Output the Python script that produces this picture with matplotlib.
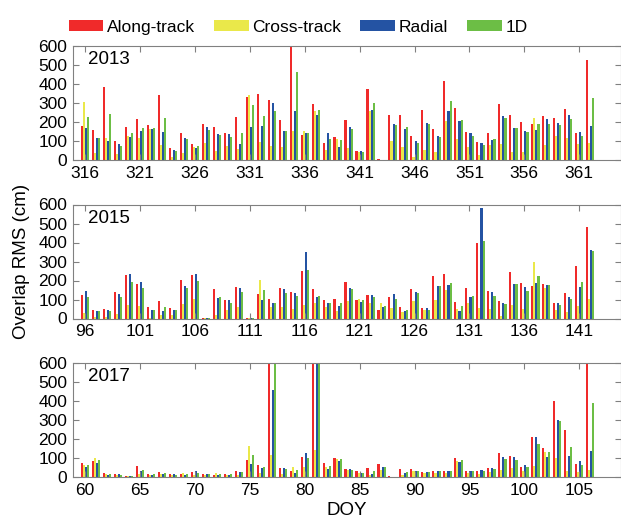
import numpy as np
import matplotlib
matplotlib.use('Agg')
import matplotlib.pyplot as plt
from matplotlib.patches import Patch

plt.rcParams['font.family'] = ['Liberation Sans', 'DejaVu Sans']

series_names = ['Along-track', 'Cross-track', 'Radial', '1D']
colors = ['#f02a2a', '#eae84a', '#2453a3', '#6cbe45']

# 2013, DOY 316-362 (values above 600 are clipped in the figure)
doy_2013 = list(range(316, 363))
along_2013 = [179, 158, 384, 98, 172, 214, 184, 342, 61, 142,
              86, 188, 174, 144, 226, 330, 347, 318, 209, 700,
              133, 295, 89, 121, 209, 46, 372, 3, 235, 237,
              126, 261, 161, 416, 272, 146, 95, 142, 295, 239,
              202, 191, 233, 219, 268, 142, 525]
cross_2013 = [305, 39, 118, 30, 126, 118, 165, 79, 18, 35,
              70, 88, 47, 74, 58, 340, 96, 74, 67, 153,
              151, 260, 53, 111, 63, 42, 260, 2, 100, 70,
              14, 53, 44, 207, 109, 67, 26, 77, 84, 44,
              42, 219, 81, 126, 116, 84, 89]
radial_2013 = [170, 116, 100, 84, 123, 151, 161, 149, 54, 116,
               65, 172, 135, 137, 84, 172, 177, 298, 154, 258,
               144, 235, 140, 70, 172, 46, 261, 2, 189, 165,
               98, 195, 126, 260, 207, 140, 91, 104, 230, 167,
               151, 158, 214, 193, 235, 146, 179]
oned_2013 = [228, 116, 240, 75, 144, 167, 170, 221, 49, 109,
             74, 158, 130, 121, 144, 291, 232, 256, 154, 463,
             144, 265, 111, 104, 161, 40, 300, 2, 182, 172,
             89, 191, 121, 309, 209, 125, 77, 111, 221, 170,
             147, 189, 189, 184, 218, 126, 325]

# 2015, DOY 96-142
doy_2015 = list(range(96, 143))
along_2015 = [123, 47, 51, 140, 228, 179, 58, 93, 56, 202,
              230, 3, 156, 95, 167, 3, 128, 102, 161, 140,
              251, 153, 100, 102, 191, 96, 126, 44, 111, 60,
              153, 56, 225, 232, 89, 158, 398, 144, 91, 247,
              188, 170, 184, 79, 133, 275, 481]
cross_2015 = [30, 9, 9, 23, 70, 65, 5, 18, 18, 75,
              104, 2, 18, 44, 61, 2, 202, 60, 63, 49,
              70, 82, 61, 42, 93, 102, 79, 82, 53, 35,
              91, 44, 98, 149, 49, 84, 56, 51, 12, 70,
              51, 295, 158, 47, 32, 67, 104]
radial_2015 = [146, 40, 44, 128, 232, 191, 47, 40, 47, 170,
               235, 2, 107, 95, 160, 3, 100, 81, 154, 133,
               349, 114, 84, 65, 161, 88, 126, 58, 130, 39,
               142, 53, 172, 177, 42, 111, 579, 142, 84, 181,
               167, 188, 175, 82, 111, 168, 358]
oned_2015 = [111, 39, 39, 111, 191, 158, 44, 60, 44, 158,
             198, 2, 111, 82, 139, 2, 151, 81, 135, 118,
             253, 121, 81, 81, 154, 95, 112, 65, 102, 47,
             132, 47, 172, 189, 65, 121, 407, 121, 75, 181,
             147, 226, 174, 72, 102, 191, 353]

# 2017, DOY 60-106
doy_2017 = list(range(60, 107))
along_2017 = [72, 86, 21, 14, 5, 56, 17, 24, 14, 17,
              26, 14, 12, 16, 33, 87, 65, 700, 49, 33,
              105, 700, 75, 100, 40, 33, 45, 66, 3, 40,
              40, 28, 33, 33, 101, 33, 33, 47, 124, 108,
              52, 208, 152, 402, 247, 68, 700]
cross_2017 = [63, 100, 14, 10, 3, 17, 9, 14, 9, 21,
              12, 9, 21, 9, 9, 164, 19, 115, 16, 52,
              54, 142, 54, 96, 37, 23, 10, 37, 2, 10,
              31, 20, 19, 19, 84, 19, 17, 26, 37, 49,
              30, 59, 129, 101, 33, 28, 37]
radial_2017 = [54, 75, 10, 14, 3, 31, 12, 17, 14, 12,
               30, 14, 12, 12, 24, 68, 49, 456, 45, 19,
               124, 700, 44, 84, 40, 23, 17, 51, 2, 19,
               33, 24, 33, 33, 79, 33, 35, 47, 103, 103,
               61, 208, 105, 299, 108, 86, 138]
oned_2017 = [63, 87, 16, 12, 3, 38, 14, 21, 12, 16,
             23, 14, 14, 14, 24, 114, 52, 700, 40, 35,
             98, 700, 58, 94, 37, 19, 31, 52, 2, 26,
             33, 24, 30, 30, 89, 31, 31, 42, 96, 89,
             51, 173, 129, 295, 156, 63, 392]

panels = [
    ('2013', doy_2013, [along_2013, cross_2013, radial_2013, oned_2013]),
    ('2015', doy_2015, [along_2015, cross_2015, radial_2015, oned_2015]),
    ('2017', doy_2017, [along_2017, cross_2017, radial_2017, oned_2017]),
]

fig = plt.figure(figsize=(6.21, 5.27), dpi=100)
W, H = 621.0, 527.0
# axes boxes in pixels: (top, bottom)
boxes = [(46, 160), (204.5, 318.5), (363, 477)]
left_px, right_px = 73, 621

frame_col = '#808080'
bw = 0.19
axes = []
for (year, days, vals), (top, bot) in zip(panels, boxes):
    ax = fig.add_axes([left_px / W, (H - bot) / H, (right_px - left_px) / W, (bot - top) / H])
    x = np.array(days)
    for i, (v, c) in enumerate(zip(vals, colors)):
        ax.bar(x + (i - 1.5) * bw, v, width=bw, color=c, linewidth=0)
    ax.set_ylim(0, 600)
    ax.set_xlim(days[0] - 1.1, days[0] + 48.8)
    ax.set_yticks(range(0, 601, 100))
    ax.set_xticks(range(days[0], days[-1] + 1, 5))
    ax.tick_params(direction='in', top=True, right=True, length=4,
                   labelsize=12.5, color=frame_col, pad=4)
    for s in ax.spines.values():
        s.set_color(frame_col)
        s.set_linewidth(0.8)
    ax.text(0.028, 0.88, year, transform=ax.transAxes, fontsize=13.5,
            va='center', ha='left')
    axes.append(ax)

axes[1].set_ylabel('Overlap RMS (cm)', fontsize=13.5, labelpad=6)
axes[2].set_xlabel('DOY', fontsize=13.5, labelpad=3)

handles = [Patch(facecolor=c, edgecolor='none') for c in colors]
fig.legend(handles, series_names, loc='center', bbox_to_anchor=(0.48, 0.948),
           ncol=4, frameon=False, fontsize=12.5, handlelength=2.0,
           handleheight=0.6, handletextpad=0.2, columnspacing=1.1)

fig.savefig('out.png', dpi=100)
